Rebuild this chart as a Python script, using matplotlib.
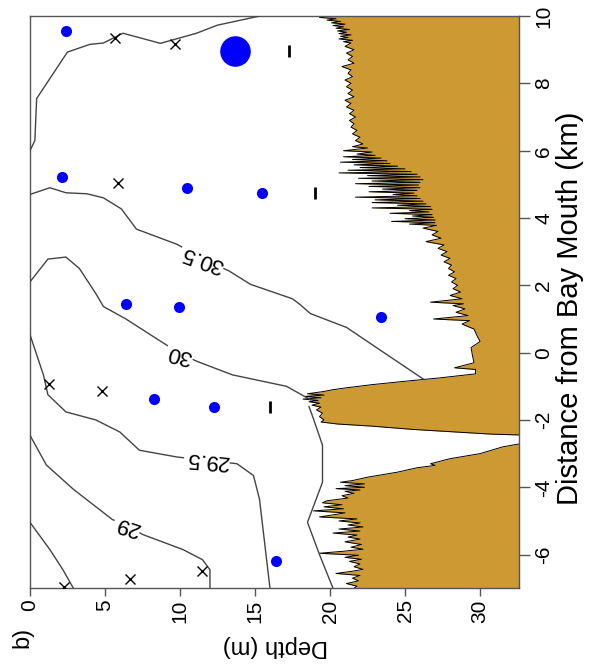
import numpy as np
from matplotlib import pyplot as plt

plt.rcParams['font.family'] = ['Liberation Sans', 'DejaVu Sans']
plt.rcParams['axes.unicode_minus'] = False

# bottom profile (distance km, depth m)
bath_dist = [10.00, 9.96, 9.92, 9.88, 9.84, 9.80, 9.76, 9.72, 9.68, 9.64, 9.60, 9.56, 9.52, 9.48,
             9.44, 9.40, 9.36, 9.32, 9.28, 9.24, 9.20, 9.10, 9.00, 8.90, 8.80, 8.70, 8.60, 8.50,
             8.40, 8.30, 8.20, 8.10, 8.00, 7.90, 7.80, 7.70, 7.60, 7.50, 7.40, 7.30, 7.20, 7.10,
             7.00, 6.90, 6.80, 6.70, 6.60, 6.50, 6.40, 6.30, 6.20, 6.12, 6.08, 6.00, 5.96, 5.90,
             5.86, 5.82, 5.78, 5.74, 5.70, 5.66, 5.62, 5.58, 5.54, 5.50, 5.46, 5.42, 5.38, 5.34,
             5.30, 5.26, 5.22, 5.18, 5.14, 5.10, 5.06, 5.02, 4.98, 4.94, 4.90, 4.86, 4.82, 4.78,
             4.74, 4.70, 4.66, 4.62, 4.58, 4.54, 4.50, 4.46, 4.42, 4.38, 4.34, 4.30, 4.26, 4.22,
             4.18, 4.14, 4.10, 4.06, 4.02, 3.98, 3.94, 3.90, 3.86, 3.82, 3.78, 3.70, 3.60, 3.50,
             3.40, 3.30, 3.20, 3.10, 3.00, 2.90, 2.80, 2.70, 2.60, 2.50, 2.40, 2.30, 2.20, 2.10,
             2.00, 1.90, 1.80, 1.70, 1.60, 1.50, 1.45, 1.40, 1.30, 1.20, 1.10, 1.00, 0.95, 0.85,
             0.70, 0.50, 0.33, 0.15, -0.10, -0.30, -0.45, -0.50, -0.63, -0.75, -0.85, -0.95, -1.05,
             -1.10, -1.16, -1.22, -1.26, -1.30, -1.34, -1.38, -1.42, -1.46, -1.50, -1.56, -1.62,
             -1.70, -1.80, -1.90, -2.00, -2.06, -2.12, -2.18, -2.28, -2.36, -2.42, -2.45, -2.69,
             -2.72, -2.80, -3.00, -3.15, -3.30, -3.35, -3.42, -3.55, -3.70, -3.80, -3.85, -3.90,
             -3.95, -4.00, -4.04, -4.08, -4.12, -4.18, -4.25, -4.32, -4.40, -4.46, -4.52, -4.58,
             -4.64, -4.70, -4.76, -4.82, -4.88, -4.94, -5.00, -5.06, -5.12, -5.18, -5.24, -5.30,
             -5.36, -5.42, -5.48, -5.54, -5.62, -5.70, -5.78, -5.84, -5.90, -5.96, -6.02, -6.08,
             -6.14, -6.20, -6.28, -6.36, -6.44, -6.50, -6.56, -6.62, -6.70, -6.78, -6.86, -6.94, -7.00]
bath_depth = [19.9, 19.3, 20.4, 19.8, 20.7, 20.1, 21.0, 20.2, 20.9, 20.4, 21.3, 20.5, 21.1, 20.6,
              21.4, 20.7, 21.2, 20.6, 21.5, 20.9, 21.4, 21.0, 21.6, 21.1, 21.5, 21.2, 21.6, 20.8,
              21.4, 21.2, 21.5, 21.0, 21.4, 21.1, 21.5, 21.2, 21.6, 21.0, 21.4, 21.1, 21.6, 21.3,
              21.7, 21.3, 21.6, 21.4, 21.8, 21.5, 22.0, 21.7, 22.2, 21.5, 22.5, 20.9, 22.8, 21.8,
              23.0, 20.9, 23.4, 21.5, 23.8, 20.7, 24.0, 21.6, 24.5, 22.0, 25.0, 21.2, 25.4, 20.6,
              25.8, 22.5, 26.0, 21.9, 26.2, 22.8, 26.0, 21.7, 25.9, 22.6, 26.0, 23.5, 25.8, 22.6,
              25.6, 24.2, 25.8, 21.7, 26.0, 23.0, 26.2, 22.8, 26.4, 24.5, 26.7, 22.8, 26.8, 25.3,
              26.6, 24.0, 26.8, 25.5, 26.9, 25.0, 27.0, 24.1, 27.0, 25.3, 27.1, 26.2, 27.2, 26.8,
              27.4, 26.4, 27.6, 27.2, 27.8, 27.4, 28.0, 27.6, 28.1, 27.9, 28.3, 27.9, 28.4, 28.1,
              28.5, 28.2, 28.7, 28.0, 28.8, 26.7, 28.9, 28.2, 29.0, 28.4, 29.2, 26.9, 29.3, 28.8,
              29.6, 29.8, 30.0, 29.4, 29.5, 29.6, 28.3, 29.7, 29.7, 27.3, 25.0, 22.8, 21.0,
              20.2, 19.5, 18.5, 19.6, 18.3, 19.4, 18.2, 19.2, 18.6, 19.3, 18.8, 19.4,
              19.1, 19.5, 19.3, 19.6, 19.4, 20.5, 22.7, 25.5, 28.5, 30.7, 33.0, 33.0,
              32.5, 31.5, 30.0, 28.0, 26.7, 27.0, 25.8, 24.5, 22.5, 21.5, 20.7, 22.3,
              21.0, 22.3, 20.4, 22.0, 21.0, 21.6, 20.8, 21.2, 19.8, 19.5, 20.8, 19.6,
              20.9, 18.9, 21.0, 20.2, 19.3, 21.8, 20.6, 22.0, 21.2, 22.2, 20.6, 22.0,
              20.2, 21.8, 21.2, 22.0, 21.0, 22.1, 21.4, 22.2, 20.9, 19.3, 21.9, 21.0,
              22.1, 21.3, 22.0, 21.6, 22.2, 21.4, 20.4, 22.0, 21.5, 21.9, 21.1, 21.8, 21.6]

# salinity contours (depth m, distance km)
c31_depth = [15.3, 12.5, 11.1, 8.7, 6.2, 4.9, 4.0, 2.5, 0.45, 0.33, 0.0]
c31_dist = [10.0, 9.73, 9.49, 9.19, 9.49, 9.2, 9.16, 8.93, 7.55, 6.3, 6.0]
c305_depth = [0.0, 1.33, 2.4, 3.8, 4.9, 6.1, 7.1, 9.8, 11.5, 13.3, 14.7, 17.5, 18.0, 18.7, 21.1, 26.2]
c305_dist = [4.7, 4.9, 4.75, 4.72, 4.6, 4.27, 3.67, 3.22, 2.8, 2.42, 2.03, 1.6, 1.43, 1.16, 0.75, -0.78]
c30_depth = [0.0, 1.2, 2.4, 3.3, 4.4, 4.9, 6.4, 10.0, 11.2, 13.5, 17.1, 18.7]
c30_dist = [2.1, 2.78, 2.84, 2.5, 1.75, 1.37, 1.0, -0.03, -0.27, -0.66, -1.0, -1.4]
c295_depth = [0.0, 0.9, 1.2, 2.4, 4.4, 6.0, 7.3, 9.8, 11.8, 13.8, 14.9, 15.3, 16.0]
c295_dist = [0.54, -0.66, -1.25, -1.76, -2.0, -2.36, -2.9, -3.1, -3.2, -3.3, -3.65, -4.35, -7.0]
c29_depth = [0.0, 1.1, 2.9, 5.5, 6.5, 7.5, 10.2, 11.5, 12.0, 12.0]
c29_dist = [-2.45, -3.34, -4.06, -4.96, -5.13, -5.4, -5.85, -6.15, -6.45, -7.0]
c285_depth = [0.0, 1.33, 2.2, 2.9]
c285_dist = [-5.04, -5.85, -6.45, -7.0]
cbot_depth = [18.6, 18.9, 19.5, 19.5, 18.5, 19.3, 20.2]
cbot_dist = [-1.6, -1.97, -2.75, -3.85, -5.04, -6.0, -7.0]

clabels = ['30.5', '30', '29.5', '29']
clabel_depth = [11.5, 10.0, 11.8, 6.5]
clabel_dist = [2.8, -0.03, -3.19, -5.13]
clabel_rot = [160, 165, 175, 162]

# sample points
dot_depth = [2.4, 2.13, 10.5, 15.5, 6.4, 9.95, 8.3, 12.3, 16.4, 23.4]
dot_dist = [9.55, 5.22, 4.9, 4.75, 1.46, 1.37, -1.37, -1.61, -6.2, 1.07]
big_depth = [13.7]
big_dist = [8.96]
cross_depth = [5.7, 9.7, 5.9, 1.27, 4.8, 11.5, 6.7, 2.27]
cross_dist = [9.34, 9.16, 5.05, -0.93, -1.13, -6.48, -6.72, -6.96]
bar_depth = [17.3, 19.0, 16.0]
bar_dist = [8.96, 4.75, -1.61]

fig = plt.figure(figsize=(5.98, 6.70), dpi=100)
ax = fig.add_axes([0.050, 0.122, 0.818, 0.854])

brown = '#CC9933'
ax.fill_betweenx(bath_dist, bath_depth, 40, color=brown, lw=0, zorder=1)
ax.plot(bath_depth, bath_dist, color='k', lw=0.7, zorder=2)

for dd, ds in [(c31_depth, c31_dist), (c305_depth, c305_dist), (c30_depth, c30_dist),
               (c295_depth, c295_dist), (c29_depth, c29_dist), (c285_depth, c285_dist),
               (cbot_depth, cbot_dist)]:
    ax.plot(dd, ds, color='#444444', lw=1.0, zorder=3)

for s, x, y, r in zip(clabels, clabel_depth, clabel_dist, clabel_rot):
    ax.text(x, y, s, rotation=r, ha='center', va='center', fontsize=16, zorder=4,
            bbox=dict(facecolor='white', edgecolor='none', pad=1))

ax.plot(dot_depth, dot_dist, 'o', color='#0000FF', ms=8, mec='none', zorder=5)
ax.plot(big_depth, big_dist, 'o', color='#0000FF', ms=22, mec='none', zorder=5)
ax.plot(cross_depth, cross_dist, 'x', color='k', ms=7, mew=1.0, zorder=5)
ax.plot(bar_depth, bar_dist, '|', color='k', ms=9, mew=2.0, zorder=5)

ax.set_xlim(0, 32.6)
ax.set_ylim(-7, 10)
ax.set_xticks([0, 5, 10, 15, 20, 25, 30])
ax.set_yticks([-6, -4, -2, 0, 2, 4, 6, 8, 10])
ax.yaxis.tick_right()
ax.yaxis.set_label_position('right')
ax.tick_params(axis='x', length=6, width=1, color='#555555', labelsize=15, labelrotation=90, pad=2)
ax.tick_params(axis='y', length=8, width=1, color='#555555', labelsize=15, labelrotation=90, pad=3)
for lab in ax.get_yticklabels():
    lab.set_va('center')
for sp in ax.spines.values():
    sp.set_color('#555555')
    sp.set_linewidth(1.0)

fig.text(275 / 598, 1 - 646 / 670, 'Depth (m)', rotation=180, ha='center', va='center', fontsize=17)
fig.text(570 / 598, 1 - 308 / 670, 'Distance from Bay Mouth (km)', rotation=90,
         ha='center', va='center', fontsize=21)
fig.text(22 / 598, 1 - 637 / 670, 'b)', rotation=90, ha='center', va='center', fontsize=17)

plt.savefig('out.png', dpi=100)
